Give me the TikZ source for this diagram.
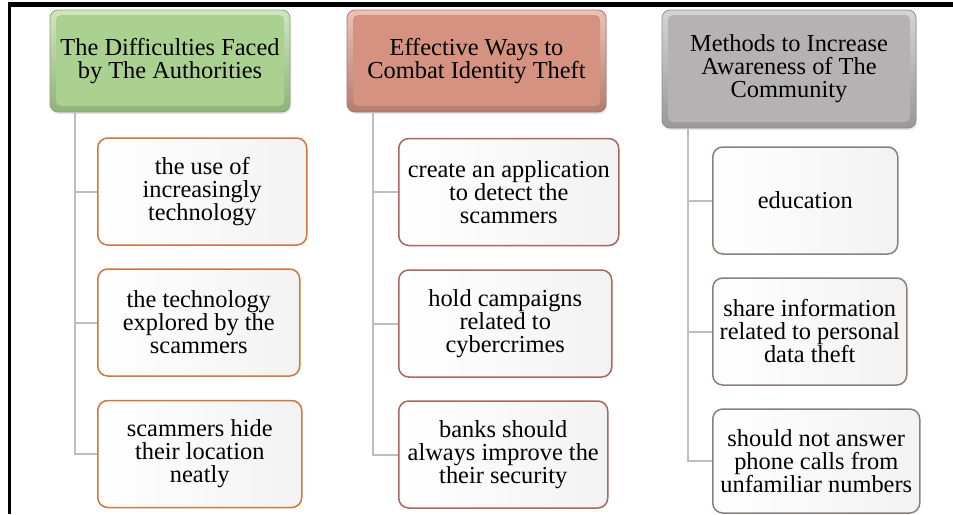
\documentclass[tikz,border=0pt]{standalone}
\usepackage{fontspec}
\setmainfont{Liberation Serif}
\newfontfamily\timesface{Liberation Serif}
\usetikzlibrary{positioning,shadows}

\definecolor{headgreen}{RGB}{170,209,143}
\definecolor{headred}{RGB}{214,146,129}
\definecolor{headgray}{RGB}{180,178,178}
\definecolor{edgeorange}{RGB}{205,120,64}
\definecolor{edgebrown}{RGB}{168,104,96}
\definecolor{edgegray}{RGB}{142,126,124}
\definecolor{linkgray}{RGB}{190,190,190}

\newcommand\boxfont{\timesface\fontsize{24.4}{23}\selectfont}

\tikzset{
  head/.style={
    draw=#1!80!black, line width=0.8pt, rounded corners=8pt,
    top color=#1!55!white, bottom color=#1!85!black,
    drop shadow={opacity=0.2, shadow xshift=1pt, shadow yshift=-2pt},
    path picture={\fill[#1, rounded corners=5pt]
      ([shift={(6pt,-5pt)}]path picture bounding box.north west) rectangle
      ([shift={(-6pt,6pt)}]path picture bounding box.south east);},
    align=center, font=\boxfont, inner sep=0pt
  },
  item/.style={
    draw=#1, line width=1.5pt, rounded corners=10pt,
    left color=white, right color=black!5,
    minimum height=107pt, anchor=west,
    align=center, font=\boxfont, inner sep=0pt
  },
  link/.style={draw=linkgray, line width=2pt}
}

\begin{document}
\begin{tikzpicture}[x=1pt, y=-1pt]

    \useasboundingbox (0,0) rectangle (953,514);

    % Frame lines at the top and on the left.
    \draw[line width=5pt] (8,4) -- (953,4);
    \draw[line width=3pt] (9,2) -- (9,514);

    % Headers of the three columns.
    \node[head=headgreen, minimum width=240pt, minimum height=102pt]
        (diff) at (170,61) {The Difficulties Faced\\by The Authorities};
    \node[head=headred, minimum width=259pt, minimum height=102pt]
        (combat) at (476.5,61) {Effective Ways to\\Combat Identity Theft};
    \node[head=headgray, minimum width=254pt, minimum height=118pt]
        (aware) at (789,69) {Methods to Increase\\Awareness of The\\Community};

    % Items of the first column.
    \node[item=edgeorange, minimum width=209pt] (diff1) at (97,191.5)
        {the use of\\increasingly\\technology};
    \node[item=edgeorange, minimum width=202pt] (diff2) at (97,322.5)
        {the technology\\explored by the\\scammers};
    \node[item=edgeorange, minimum width=204pt] (diff3) at (97,454)
        {scammers hide\\their location\\neatly};

    % Items of the second column.
    \node[item=edgebrown, minimum width=220pt] (combat1) at (398,192)
        {create an application\\to detect the\\scammers};
    \node[item=edgebrown, minimum width=213pt] (combat2) at (398,323.5)
        {hold campaigns\\related to\\cybercrimes};
    \node[item=edgebrown, minimum width=209pt] (combat3) at (398,454.5)
        {banks should\\always improve the\\their security};

    % Items of the third column.
    \node[item=edgegray, minimum width=185pt] (aware1) at (712,200.5)
        {education};
    \node[item=edgegray, minimum width=194pt] (aware2) at (712,331.5)
        {share information\\related to personal\\data theft};
    \node[item=edgegray, minimum width=207pt, minimum height=104pt]
        (aware3) at (712,461) {should not answer\\phone calls from\\unfamiliar numbers};

    % Connectors from each header down to its items.
    \coordinate (diffbus) at ([xshift=25pt]diff.south west);
    \draw[link] (diffbus) |- (diff3.west);
    \draw[link] (diffbus |- diff1.west) -- (diff1.west);
    \draw[link] (diffbus |- diff2.west) -- (diff2.west);

    \coordinate (combatbus) at ([xshift=26pt]combat.south west);
    \draw[link] (combatbus) |- (combat3.west);
    \draw[link] (combatbus |- combat1.west) -- (combat1.west);
    \draw[link] (combatbus |- combat2.west) -- (combat2.west);

    \coordinate (awarebus) at ([xshift=26pt]aware.south west);
    \draw[link] (awarebus) |- (aware3.west);
    \draw[link] (awarebus |- aware1.west) -- (aware1.west);
    \draw[link] (awarebus |- aware2.west) -- (aware2.west);

\end{tikzpicture}
\end{document}
